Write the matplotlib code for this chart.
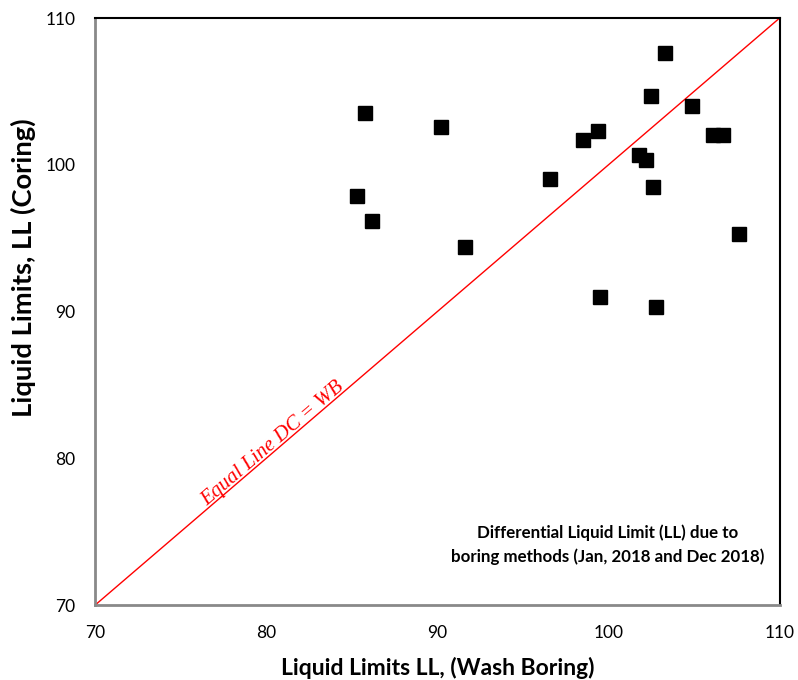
import matplotlib
matplotlib.use("Agg")
import matplotlib.pyplot as plt

plt.rcParams['font.family'] = ['Lato', 'DejaVu Sans']

wash_boring = [85.3, 85.8, 86.2, 90.2, 91.6, 96.6, 98.5, 99.4, 99.5, 101.8,
               102.2, 102.5, 102.6, 102.8, 103.3, 104.9, 106.1, 106.7, 107.6]
coring = [97.9, 103.5, 96.2, 102.6, 94.4, 99.0, 101.7, 102.3, 91.0, 100.7,
          100.3, 104.7, 98.5, 90.3, 107.6, 104.0, 102.0, 102.0, 95.3]
equal_line = [70, 110]
ticks = [70, 80, 90, 100, 110]

fig = plt.figure(figsize=(7.98, 6.8), dpi=100)
ax = fig.add_axes([0.119, 0.110, 0.858, 0.8635])

ax.plot(equal_line, equal_line, color='#ff0000', lw=1.0, zorder=2)
ax.plot(wash_boring, coring, 's', color='black', markersize=10, zorder=3)

ax.set_xlim(70, 110)
ax.set_ylim(70, 110)
ax.set_xticks(ticks)
ax.set_yticks(ticks)
ax.tick_params(length=0, labelsize=12.5)
ax.tick_params(axis='x', pad=14)
ax.tick_params(axis='y', pad=14)

for s in ['left', 'bottom']:
    ax.spines[s].set_color('#898989')
    ax.spines[s].set_linewidth(2)
for s in ['top', 'right']:
    ax.spines[s].set_color('black')
    ax.spines[s].set_linewidth(1.5)

xl = ax.set_xlabel('Liquid Limits LL, (Wash Boring)', fontsize=14, fontweight='bold', labelpad=12)
yl = ax.set_ylabel('Liquid Limits, LL (Coring)', fontsize=14, fontweight='bold')
ax.yaxis.set_label_coords(-0.105, 0.575)
yl.set_va('center')

eq = ax.text(80.4, 81.0, 'Equal Line DC = WB', color='#ff0000', fontsize=15,
             family='Liberation Serif', style='italic', rotation=40.6,
             rotation_mode='anchor', ha='center', va='center')

ann = ax.text(0.749, 0.103, 'Differential Liquid Limit (LL) due to\nboring methods (Jan, 2018 and Dec 2018)',
              transform=ax.transAxes, ha='center', va='center', fontsize=11,
              fontweight='bold', linespacing=1.6)

# fit text sizes to the measured widths in the reference
fig.canvas.draw()
r = fig.canvas.get_renderer()
def fit(t, target, vertical=False):
    bb = t.get_window_extent(r)
    w = bb.height if vertical else bb.width
    t.set_fontsize(t.get_fontsize() * target / w)
fit(xl, 316)
fit(yl, 300, vertical=True)
fit(ann, 314)
fig.savefig('out.png', dpi=100)
